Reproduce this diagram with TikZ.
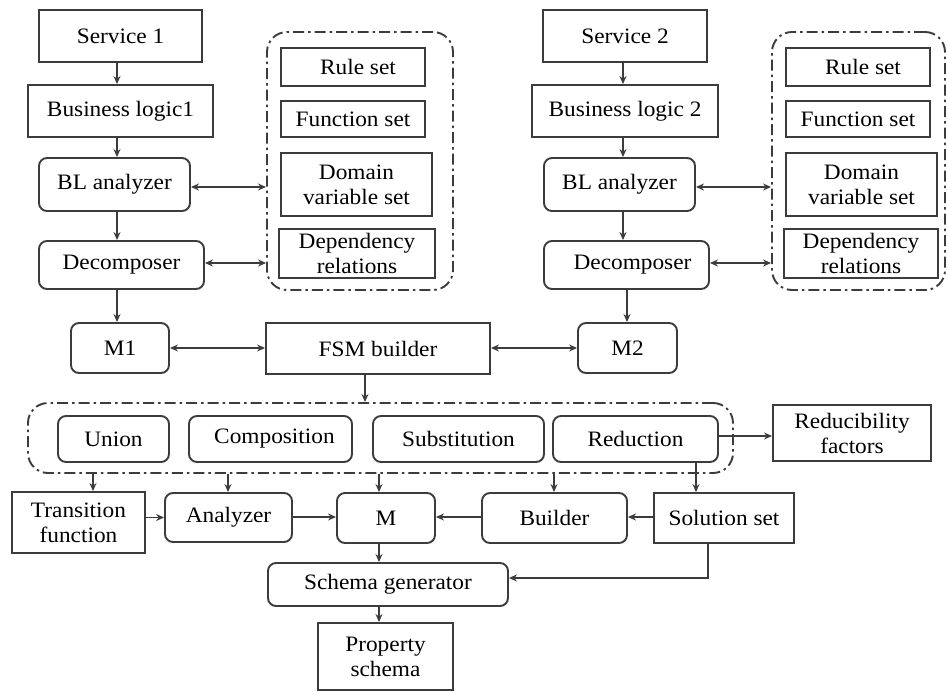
\documentclass[tikz,border=0pt]{standalone}
\usepackage{fontspec}
\setmainfont{Liberation Serif}[FakeStretch=1.06]
\usetikzlibrary{arrows.meta,calc}
\begin{document}
\begin{tikzpicture}[x=1pt,y=-1pt,
  every node/.style={font=\fontsize{22}{25}\selectfont, text=black, inner sep=0pt, align=center},
  box/.style={draw=linec, line width=1.9pt},
  rbox/.style={draw=linec, line width=1.9pt, rounded corners=8pt},
  grp/.style={draw=linec, line width=1.9pt, rounded corners=20pt, dash pattern=on 11pt off 4pt on 2.5pt off 4pt},
  arr/.style={draw=linec, line width=1.6pt, -{Stealth[length=8pt,width=7pt]}},
  darr/.style={draw=linec, line width=1.6pt, {Stealth[length=8pt,width=7pt]}-{Stealth[length=8pt,width=7pt]}},
  ln/.style={draw=linec, line width=1.6pt}
]
\definecolor{linec}{HTML}{3C3C3C}
\useasboundingbox (0,0) rectangle (948,691);

% left column
\node[box, minimum width=163pt, minimum height=52pt] (s1) at (120.5,36) {Service 1};
\node[box, minimum width=185pt, minimum height=52pt] (bl1) at (120.5,111) {Business logic1};
\node[rbox, minimum width=151pt, minimum height=53pt] (bla1) at (114.5,184.5) {BL analyzer};
\node[rbox, minimum width=165pt, minimum height=48pt] (dec1) at (121.5,265) {Decomposer};

\node[grp, minimum width=186pt, minimum height=258pt] (g1) at (360,161) {};
\node[box, minimum width=144pt, minimum height=38pt] (r1) at (353,67) {\hspace{10pt}Rule set};
\node[box, minimum width=144pt, minimum height=36pt] (f1) at (353,119) {Function set};
\node[box, minimum width=151pt, minimum height=63pt] (d1) at (356.5,184.5) {Domain\\variable set};
\node[box, minimum width=156pt, minimum height=49pt] (p1) at (357,253.5) {Dependency\\relations};

% right column
\node[box, minimum width=164pt, minimum height=52pt] (s2) at (625,36) {Service 2};
\node[box, minimum width=186pt, minimum height=52pt] (bl2) at (625,111) {Business logic 2};
\node[rbox, minimum width=151pt, minimum height=53pt] (bla2) at (619.5,184.5) {BL analyzer};
\node[rbox, minimum width=165pt, minimum height=48pt] (dec2) at (626.5,265) {\hspace{12pt}Decomposer};

\node[grp, minimum width=173pt, minimum height=258pt] (g2) at (858.5,161) {};
\node[box, minimum width=144pt, minimum height=38pt] (r2) at (858,67) {\hspace{10pt}Rule set};
\node[box, minimum width=144pt, minimum height=36pt] (f2) at (858,119) {Function set};
\node[box, minimum width=151pt, minimum height=63pt] (d2) at (861.5,184.5) {Domain\\variable set};
\node[box, minimum width=154pt, minimum height=49pt] (p2) at (861,253.5) {Dependency\\relations};

% middle row
\node[rbox, minimum width=98pt, minimum height=50pt] (m1) at (120,348) {M1};
\node[box, minimum width=224pt, minimum height=51pt] (fsm) at (378,348.5) {FSM builder};
\node[rbox, minimum width=99pt, minimum height=50pt] (m2) at (627.5,348) {M2};

% operations group
\node[grp, minimum width=705pt, minimum height=70pt] (g3) at (380.5,438) {};
\node[rbox, minimum width=111pt, minimum height=46pt] (un) at (113.5,439) {Union};
\node[rbox, minimum width=163pt, minimum height=46pt] (co) at (270.5,439) {\hspace{8pt}Composition};
\node[rbox, minimum width=171pt, minimum height=46pt] (su) at (458.5,439) {Substitution};
\node[rbox, minimum width=165pt, minimum height=46pt] (re) at (635.5,439) {Reduction};
\node[box, minimum width=158pt, minimum height=56pt] (rf) at (852,433) {Reducibility\\factors};

% bottom
\node[box, minimum width=133pt, minimum height=61pt] (tf) at (78.5,522.5) {Transition\\function};
\node[rbox, minimum width=127pt, minimum height=49pt] (an) at (228.5,517.5) {Analyzer};
\node[rbox, minimum width=98pt, minimum height=50pt] (mm) at (386,518) {M};
\node[rbox, minimum width=145pt, minimum height=50pt] (bu) at (554.5,518) {Builder};
\node[box, minimum width=140pt, minimum height=50pt] (so) at (724,518) {Solution set};
\node[rbox, minimum width=240pt, minimum height=43pt] (sg) at (388,584.5) {Schema generator};
\node[box, minimum width=135pt, minimum height=67pt] (ps) at (385.5,656.5) {Property\\schema};

% helper x coordinates
\coordinate (xa) at (117,0);
\coordinate (xb) at (623,0);
\coordinate (xc) at (627,0);
\coordinate (xf) at (365,0);
\coordinate (xu) at (93,0);
\coordinate (xn) at (228,0);
\coordinate (xm) at (379,0);
\coordinate (xq) at (554,0);
\coordinate (xr) at (696,0);
\coordinate (xs) at (708,0);
\coordinate (ys) at (0,578);
\coordinate (yr) at (0,436);
\coordinate (yb) at (0,517);

% left column arrows
\draw[arr] (s1.south -| xa) -- (bl1.north -| xa);
\draw[arr] (bl1.south -| xa) -- (bla1.north -| xa);
\draw[arr] (bla1.south -| xa) -- (dec1.north -| xa);
\draw[arr] (dec1.south -| xa) -- (m1.north -| xa);
\draw[darr] (bla1.east |- 0,187) -- (g1.west |- 0,187);
\draw[darr] (dec1.east |- 0,263) -- (g1.west |- 0,263);

% right column arrows
\draw[arr] (s2.south -| xb) -- (bl2.north -| xb);
\draw[arr] (bl2.south -| xb) -- (bla2.north -| xb);
\draw[arr] (bla2.south -| xb) -- (dec2.north -| xb);
\draw[arr] (dec2.south -| xc) -- (m2.north -| xc);
\draw[darr] (bla2.east |- 0,187) -- (g2.west |- 0,187);
\draw[darr] (dec2.east |- 0,263) -- (g2.west |- 0,263);

% middle
\draw[darr] (m1.east) -- (fsm.west |- m1.east);
\draw[darr] (fsm.east |- m2.west) -- (m2.west);
\draw[arr] (fsm.south -| xf) -- (g3.north -| xf);
\draw[arr] (re.east |- yr) -- (rf.west |- yr);

% from group to bottom row
\draw[arr] (g3.south -| xu) -- (tf.north -| xu);
\draw[arr] (g3.south -| xn) -- (an.north -| xn);
\draw[arr] (g3.south -| xm) -- (mm.north -| xm);
\draw[arr] (g3.south -| xq) -- (bu.north -| xq);
\draw[arr] (re.south -| xr) -- (so.north -| xr);

% bottom row
\draw[arr] (tf.east |- an.west) -- (an.west);
\draw[arr] (an.east |- yb) -- (mm.west |- yb);
\draw[arr] (bu.west |- yb) -- (mm.east |- yb);
\draw[arr] (so.west |- yb) -- (bu.east |- yb);
\draw[arr] (mm.south -| xm) -- (sg.north -| xm);
\draw[arr] (sg.south -| xm) -- (ps.north -| xm);
\draw[arr] (so.south -| xs) -- (xs |- ys) -- (sg.east |- ys);
\end{tikzpicture}
\end{document}
